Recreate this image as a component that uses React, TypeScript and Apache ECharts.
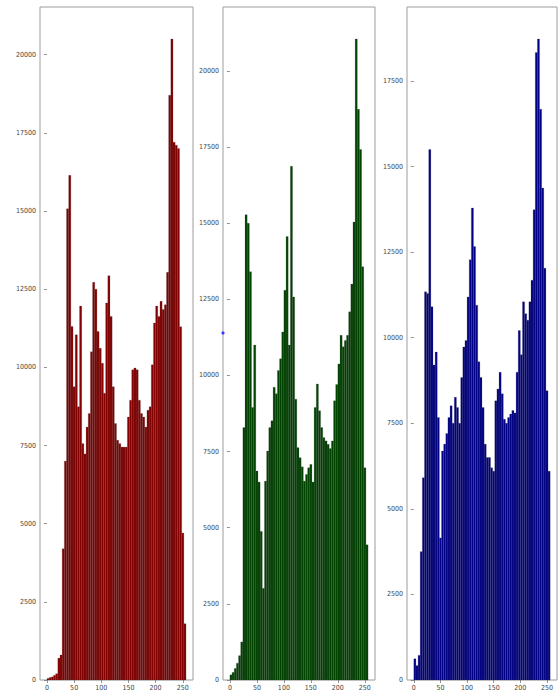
import React, { useEffect, useRef } from "react";
import * as echarts from "echarts";

// Histogram counts, one value per 4-unit bin from 0 to 256 (64 bins)
const binWidth = 4;

const redCounts = [
  50, 80, 100, 150, 200, 700, 800, 4200,
  7000, 15070, 16140, 11310, 9380, 11040, 8740, 11960,
  7560, 7230, 8090, 8520, 10500, 12720, 12500, 11150,
  10610, 10130, 9170, 12060, 12930, 11630, 9380, 8200,
  7670, 7560, 7450, 7450, 7450, 8410, 8950, 9920,
  9980, 9920, 8950, 8520, 8410, 8090, 8630, 8740,
  10080, 11420, 11960, 11630, 12110, 11850, 12000, 13040,
  18700, 20500, 17200, 17100, 17000, 11300, 4700, 1800,
];

const greenCounts = [
  170, 250, 380, 550, 800, 1250, 8290, 15280,
  15000, 13410, 8950, 11000, 6860, 6500, 4880, 3010,
  6530, 7520, 8290, 8510, 9610, 9400, 10160, 10550,
  11430, 12800, 14560, 11000, 16870, 12580, 9220, 7630,
  7300, 7000, 6530, 6750, 6970, 7080, 6500, 8950,
  9720, 8840, 8290, 7960, 7850, 7740, 7600, 7850,
  9170, 9700, 10380, 11320, 10940, 11150, 11320, 12090,
  13000, 15040, 21050, 18740, 17420, 13570, 6970, 4440,
];

const blueCounts = [
  620, 420, 720, 3750, 5910, 11340, 11290, 15500,
  10900, 9200, 9580, 7670, 4150, 6690, 6890, 7200,
  7670, 8010, 7500, 8260, 7960, 7500, 8840, 9730,
  9920, 11190, 12280, 13790, 12660, 10950, 9300, 8840,
  7960, 6890, 6500, 6500, 6200, 6100, 8160, 8500,
  8990, 8360, 7620, 7500, 7670, 7770, 7870, 7800,
  8990, 10210, 9500, 11050, 10700, 10510, 11050, 11680,
  13740, 18330, 18725, 16670, 14370, 12030, 8450, 6100,
];

const xTickValues = [0, 50, 100, 150, 200, 250];
const yTicksRG = [0, 2500, 5000, 7500, 10000, 12500, 15000, 17500, 20000];
const yTicksB = [0, 2500, 5000, 7500, 10000, 12500, 15000, 17500];

const panels = [
  { counts: redCounts, fill: "#850000", left: 40, width: 153, yMax: 21525, yTicks: yTicksRG },
  { counts: greenCounts, fill: "#004400", left: 223, width: 152, yMax: 22100, yTicks: yTicksRG },
  { counts: blueCounts, fill: "#000088", left: 407, width: 150, yMax: 19660, yTicks: yTicksB },
];

const labelFont = "'DejaVu Sans Condensed', 'Liberation Sans Narrow', 'DejaVu Sans', sans-serif";
const plain = (v: number) => String(v);

export default function App() {
  const ref = useRef<HTMLDivElement>(null);

  useEffect(() => {
    if (!ref.current) return;
    const chart = echarts.init(ref.current, null, { renderer: "svg" });

    const grids: any[] = [];
    const xAxes: any[] = [];
    const yAxes: any[] = [];
    const series: any[] = [];

    panels.forEach((p, i) => {
      grids.push({
        left: p.left,
        top: 7,
        width: p.width,
        height: 673,
        show: true,
        borderColor: "#9c9c9c",
        borderWidth: 1,
        backgroundColor: "#ffffff",
      });
      xAxes.push({
        type: "value",
        gridIndex: i,
        min: -12.8,
        max: 268.8,
        axisLine: { show: false },
        splitLine: { show: false },
        axisTick: {
          show: true,
          customValues: xTickValues,
          length: 3,
          lineStyle: { color: "#777", width: 0.8 },
        },
        axisLabel: {
          customValues: xTickValues,
          formatter: plain,
          fontSize: 7,
          color: "#444",
          margin: 4,
          fontFamily: labelFont,
        },
      });
      yAxes.push({
        type: "value",
        gridIndex: i,
        min: 0,
        max: p.yMax,
        axisLine: { show: false },
        splitLine: { show: false },
        axisTick: {
          show: true,
          customValues: p.yTicks,
          length: 3,
          lineStyle: { color: "#777", width: 0.8 },
        },
        axisLabel: {
          customValues: p.yTicks,
          formatter: plain,
          fontSize: 7,
          color: "#444",
          margin: 4,
          fontFamily: labelFont,
        },
      });
      const data = p.counts.map((c, k) => [k * binWidth, (k + 1) * binWidth, c]);
      series.push({
        type: "custom",
        xAxisIndex: i,
        yAxisIndex: i,
        data,
        encode: { x: [0, 1], y: 2 },
        renderItem: (params: any, api: any) => {
          const x0 = api.value(0);
          const x1 = api.value(1);
          const v = api.value(2);
          const top = api.coord([x0, v]);
          const bottom = api.coord([x1, 0]);
          return {
            type: "rect",
            shape: {
              x: top[0],
              y: top[1],
              width: bottom[0] - top[0],
              height: bottom[1] - top[1],
            },
            style: { fill: p.fill, stroke: "rgba(70,70,70,0.7)", lineWidth: 0.3 },
          };
        },
      });
    });

    chart.setOption({
      animation: false,
      backgroundColor: "#ffffff",
      grid: grids,
      xAxis: xAxes,
      yAxis: yAxes,
      series,
      graphic: [
        {
          type: "circle",
          shape: { cx: 223, cy: 333, r: 1.6 },
          style: { fill: "#3040ff" },
          z: 100,
        },
      ],
    });

    return () => chart.dispose();
  }, []);

  return (
    <div
      ref={ref}
      style={{ position: "fixed", left: 0, top: 0, width: 560, height: 700, background: "#fff" }}
    />
  );
}
